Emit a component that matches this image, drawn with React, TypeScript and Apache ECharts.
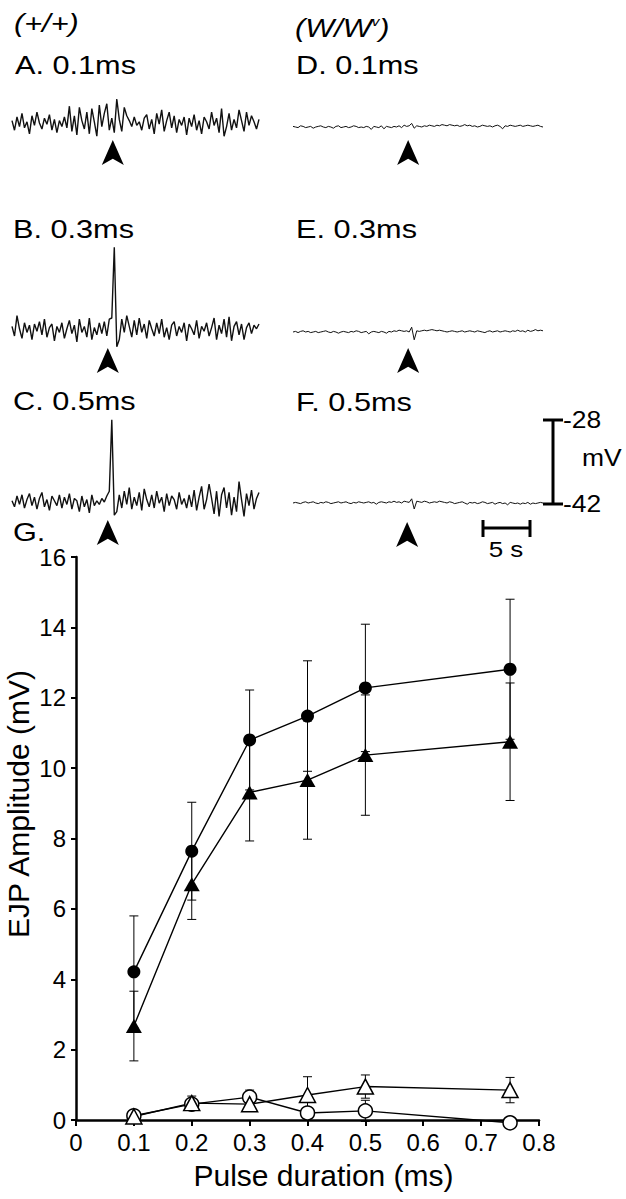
import React, { useEffect, useRef } from 'react';
import * as echarts from 'echarts';

const FONT = '"Liberation Sans", Arial, Helvetica, sans-serif';

// ---- Panel G data (EJP amplitude vs pulse duration) ----
const pulseDurations = [0.1, 0.2, 0.3, 0.4, 0.5, 0.75];
const filledCircle = [4.21, 7.64, 10.8, 11.48, 12.28, 12.81];
const filledCircleErr = [1.59, 1.39, 1.42, 1.57, 1.81, 1.99];
const filledTriangle = [2.67, 6.7, 9.31, 9.66, 10.37, 10.75];
const filledTriangleErr = [0.99, 1.0, 1.38, 1.68, 1.71, 1.67];
const openCircle = [0.12, 0.45, 0.65, 0.2, 0.26, -0.08];
const openCircleErr = [0.05, 0.15, 0.2, 0.1, 0.3, 0.05];
const openTriangle = [0.1, 0.48, 0.45, 0.71, 0.95, 0.85];
const openTriangleErr = [0.05, 0.2, 0.2, 0.52, 0.33, 0.36];

const xTicks = [0, 0.1, 0.2, 0.3, 0.4, 0.5, 0.6, 0.7, 0.8];
const yTicks = [0, 2, 4, 6, 8, 10, 12, 14, 16];
const xAxisTitle = 'Pulse duration (ms)';
const yAxisTitle = 'EJP Amplitude (mV)';

// ---- Panels A-F: membrane potential traces (mV relative to baseline), sampled every 0.25 s ----
const DT = 0.25;
const traceA = [
  0.4, -1.2, 1.0, -0.6, 1.6, -0.8, 0.2, -1.8, 1.2, -0.4,
  1.8, 0.0, -1.0, 0.8, -0.2, 1.4, -1.2, 0.6, -1.6, 0.4,
  -0.6, 1.0, -0.8, 2.8, -1.4, 1.2, -2.0, 2.6, 0.4, -1.0,
  1.8, -1.8, 2.4, 0.2, -2.2, 3.0, -0.6, 1.6, 3.2, -1.2,
  0.8, -1.6, 4.0, 0.6, -1.4, 2.6, 1.2, 0.4, -0.6, 1.0,
  -0.4, 0.2, -1.2, 0.8, 1.4, -1.0, 0.6, -1.8, 1.6, -0.2,
  2.2, -1.4, 0.4, 1.8, -0.8, 1.2, -1.6, 0.6, -0.4, 1.0,
  -2.0, 0.8, -0.6, 1.4, -1.2, 0.4, -1.8, 1.0, 0.2, -1.0,
  1.8, -0.4, 0.8, -1.6, 2.4, -2.2, -0.6, 1.6, -1.2, 0.6,
  -0.8, 2.2, 0.4, -1.4, 1.8, -0.4, 1.2, 0.2, -1.0, 0.6,
];
const traceB = [
  0.6, -1.0, 2.4, 0.2, -1.4, 1.2, -0.4, 0.8, -1.6, 1.0,
  -0.2, 1.4, -0.8, 1.8, -1.2, 0.4, 1.0, -1.8, 0.6, -0.4,
  1.2, -1.4, 0.2, 1.6, -0.6, 0.8, -2.0, 1.8, -0.4, 0.6,
  -1.2, 2.0, -1.6, 0.4, -0.8, 1.2, -0.6, 1.4, -1.0, 1.8,
  2.0, 13.8, -2.8, -1.6, 1.8, -0.4, 2.4, 0.6, -1.2, 1.6,
  -0.8, 2.0, -0.4, 1.0, -1.4, 1.6, 0.2, -1.0, 1.2, -0.6,
  1.8, -1.2, 0.4, -1.6, 0.8, 1.4, -1.0, 0.6, -0.4, 1.2,
  -1.8, 1.0, 0.2, -0.8, 1.6, -1.4, 0.6, -0.2, 1.2, -1.0,
  0.4, 2.0, -1.6, 0.8, -0.6, 1.8, -1.2, 2.2, -1.8, 0.6,
  1.4, -0.8, 1.0, -1.6, 0.4, 1.2, -0.6, 0.8, 0.2, 1.0,
];
const traceC = [
  0.2, -0.8, 1.0, -0.4, 1.2, -1.0, 0.4, 1.4, -0.6, 0.8,
  -1.2, 0.6, 1.6, -0.8, 0.4, -1.4, 1.0, 0.2, -0.6, 1.2,
  -1.0, 0.8, -0.4, 1.4, -1.2, 0.6, 0.2, -1.6, 1.0, -0.8,
  0.4, -1.8, 1.2, -0.6, 0.2, -0.4, 0.6, 0.0, 1.0, 1.8,
  13.7, -2.2, -1.6, 1.2, -1.0, 1.8, -0.4, 2.4, -1.2, 0.8,
  -0.6, 1.6, -1.4, 2.2, 0.4, -0.8, 1.2, -1.0, 1.8, -0.2,
  0.8, -1.6, 1.4, -0.6, 1.0, 0.4, -1.2, 1.6, -0.4, 0.6,
  -1.0, 1.2, -0.8, 2.0, -1.4, 0.8, 2.6, -1.2, 0.4, 3.0,
  0.6, -2.0, 1.8, -2.4, 1.2, 2.4, -1.0, 1.6, -2.2, 0.8,
  -1.6, 3.4, 0.4, -2.4, 1.4, -0.6, 2.0, -1.2, 0.6, 1.6,
];
const traceD = [
  0.1, 0.0, -0.1, 0.2, 0.1, -0.1, 0.0, 0.1, -0.2, 0.0,
  0.1, 0.2, 0.0, -0.1, 0.1, 0.0, -0.2, 0.1, 0.2, -0.1,
  0.0, 0.1, -0.1, 0.0, 0.2, 0.1, -0.1, 0.0, -0.1, 0.1,
  0.0, -0.4, 0.1, 0.0, -0.1, 0.2, -0.3, 0.1, 0.0, -0.1,
  0.1, 0.0, 0.2, -0.1, 0.3, 0.1, 0.2, 0.6, -0.2, 0.2,
  0.1, 0.0, 0.2, 0.1, 0.3, 0.2, 0.1, 0.3, 0.2, 0.4,
  0.3, 0.2, 0.4, 0.3, 0.2, 0.3, 0.1, 0.2, 0.4, 0.2,
  0.3, 0.1, 0.2, 0.0, 0.1, 0.3, 0.2, 0.1, 0.2, 0.0,
  0.2, 0.3, 0.1, -0.3, 0.2, 0.1, 0.3, 0.2, 0.1, 0.2,
  0.3, 0.1, 0.2, 0.3, 0.2, 0.1, 0.2, 0.3, 0.1, 0.0,
];
const traceE = [
  0.0, 0.1, -0.1, 0.1, 0.2, 0.0, 0.1, -0.1, 0.0, 0.1,
  -0.1, 0.0, 0.1, 0.2, 0.0, -0.1, 0.1, 0.0, -0.2, 0.0,
  0.1, 0.0, -0.1, 0.1, 0.0, 0.2, 0.1, -0.1, 0.0, 0.1,
  -0.3, 0.0, 0.1, 0.0, -0.1, 0.1, 0.0, -0.2, 0.1, 0.0,
  0.2, 0.1, 0.3, 0.2, 0.1, 0.2, 0.0, 0.8, -1.3, 0.2,
  0.1, 0.2, 0.3, 0.2, 0.3, 0.4, 0.3, 0.2, 0.3, 0.2,
  0.1, 0.0, 0.1, 0.2, 0.1, 0.0, 0.1, 0.2, 0.0, 0.1,
  0.2, 0.1, 0.0, 0.2, 0.1, 0.0, -0.1, 0.1, 0.2, 0.0,
  0.1, 0.2, 0.0, 0.1, 0.2, 0.1, 0.0, 0.2, 0.1, 0.3,
  0.1, 0.2, 0.0, 0.3, 0.1, 0.2, 0.4, 0.2, 0.3, 0.2,
];
const traceF = [
  0.0, 0.1, 0.0, -0.1, 0.1, 0.2, 0.0, 0.1, 0.2, 0.0,
  -0.1, 0.1, 0.0, 0.2, 0.1, -0.1, 0.0, 0.1, 0.2, 0.0,
  0.1, 0.2, 0.0, -0.1, 0.1, 0.0, 0.2, 0.1, 0.0, 0.1,
  0.2, 0.0, 0.1, -0.2, 0.1, 0.2, 0.1, 0.0, 0.2, 0.1,
  0.3, 0.1, 0.2, 0.0, 0.3, 0.2, 0.1, 0.7, -1.0, 0.3,
  0.2, 0.1, 0.3, 0.2, 0.0, 0.1, 0.2, 0.1, 0.3, 0.2,
  0.1, 0.0, 0.2, 0.1, -0.1, 0.0, 0.1, 0.2, 0.0, -0.2,
  0.1, 0.0, 0.1, -0.1, 0.0, 0.2, 0.1, -0.1, 0.0, 0.1,
  -0.2, 0.0, 0.1, -0.1, 0.0, -0.3, 0.1, 0.0, -0.1, 0.0,
  -0.2, 0.0, -0.1, 0.1, -0.2, 0.0, -0.1, 0.0, 0.1, 0.0,
];
const traces = [traceA, traceB, traceC, traceD, traceE, traceF];
const panelTitles = ['A. 0.1ms', 'B. 0.3ms', 'C. 0.5ms', 'D. 0.1ms', 'E. 0.3ms', 'F. 0.5ms'];
// stimulus arrow: time (s) and tip position (mV relative to baseline)
const stimTime = [10.1, 9.6, 9.6, 11.4, 11.4, 11.3];
const stimArrowTip = [-2.83, -3.0, -3.0, -2.17, -2.67, -3.17];

// layout of the six trace panels (px)
const traceLayout = [
  { left: 12, top: 39, width: 247, lw: 1.4 },
  { left: 12, top: 246, width: 247, lw: 1.4 },
  { left: 12, top: 418, width: 247, lw: 1.4 },
  { left: 293, top: 43, width: 250, lw: 1.0 },
  { left: 293, top: 248, width: 250, lw: 1.0 },
  { left: 293, top: 419, width: 250, lw: 1.0 },
];
const titlePos = [
  [15, 64.5], [13, 229], [13, 400.5], [296, 65], [296, 229], [296, 401.5],
];

function App() {
  const ref = useRef<HTMLDivElement>(null);
  useEffect(() => {
    if (!ref.current) return;
    const chart = echarts.init(ref.current, null, { renderer: 'svg' });

    const grids: any[] = [
      { left: 76, right: 87, top: 557, bottom: 79, containLabel: false, outerBoundsMode: 'none' },
    ];
    const xAxes: any[] = [
      {
        type: 'value', gridIndex: 0, min: 0, max: 0.8, interval: 0.1,
        name: xAxisTitle, nameLocation: 'middle', nameGap: 40,
        nameTextStyle: { fontSize: 30, fontFamily: FONT, color: '#000', padding: [0, 0, 0, 32] },
        axisLine: { show: true, lineStyle: { color: '#000', width: 2.5 } },
        axisTick: { show: true, length: 6, lineStyle: { color: '#000', width: 2 } },
        axisLabel: {
          fontSize: 24, fontFamily: FONT, color: '#000', margin: 10,
          formatter: (v: number) => (v === 0 ? '0' : String(Math.round(v * 10) / 10)),
        },
        splitLine: { show: false },
      },
    ];
    const yAxes: any[] = [
      {
        type: 'value', gridIndex: 0, min: 0, max: 16, interval: 2,
        axisLine: { show: true, lineStyle: { color: '#000', width: 2.5 } },
        axisTick: { show: true, length: 5, lineStyle: { color: '#000', width: 2 } },
        axisLabel: { fontSize: 24, fontFamily: FONT, color: '#000', margin: 10 },
        splitLine: { show: false },
      },
    ];
    const series: any[] = [];

    traces.forEach((tr, i) => {
      const L = traceLayout[i];
      grids.push({ left: L.left, top: L.top, width: L.width, height: 120, outerBoundsMode: 'none' });
      xAxes.push({ type: 'value', gridIndex: i + 1, min: 0, max: (tr.length - 1) * DT, show: false });
      yAxes.push({ type: 'value', gridIndex: i + 1, min: -6, max: 14, show: false });
      series.push({
        type: 'line', name: panelTitles[i], xAxisIndex: i + 1, yAxisIndex: i + 1,
        data: tr.map((v, k) => [k * DT, v]), symbol: 'none', clip: false, silent: true,
        lineStyle: { color: '#111', width: L.lw },
      });
      // ECharts' "arrow" symbol has its tip at the data point and points up
      series.push({
        type: 'scatter', name: panelTitles[i] + ' stimulus', xAxisIndex: i + 1, yAxisIndex: i + 1,
        data: [[stimTime[i], stimArrowTip[i]]], symbol: 'arrow', symbolSize: [16.5, 25],
        itemStyle: { color: '#000', opacity: 1 }, clip: false, silent: true,
      });
    });

    const errSeries = (vals: number[], errs: number[], name: string) => ({
      type: 'custom', name, xAxisIndex: 0, yAxisIndex: 0, z: 1, silent: true, clip: false,
      data: pulseDurations.map((x, i) => [x, vals[i], errs[i]]),
      encode: { x: 0, y: 1 },
      renderItem: (params: any, api: any) => {
        const x = api.value(0), y = api.value(1), e = api.value(2);
        const t = api.coord([x, y + e]);
        const b = api.coord([x, y - e]);
        const cw = 4.5;
        const st = { stroke: '#000', lineWidth: 1 };
        return {
          type: 'group',
          children: [
            { type: 'line', shape: { x1: t[0], y1: t[1], x2: b[0], y2: b[1] }, style: st },
            { type: 'line', shape: { x1: t[0] - cw, y1: t[1], x2: t[0] + cw, y2: t[1] }, style: st },
            { type: 'line', shape: { x1: b[0] - cw, y1: b[1], x2: b[0] + cw, y2: b[1] }, style: st },
          ],
        };
      },
    });

    series.push(errSeries(filledCircle, filledCircleErr, 'err1'));
    series.push(errSeries(filledTriangle, filledTriangleErr, 'err2'));
    series.push(errSeries(openCircle, openCircleErr, 'err3'));
    series.push(errSeries(openTriangle, openTriangleErr, 'err4'));

    const lineSeries = (vals: number[], name: string, symbol: string, size: any, open: boolean) => ({
      type: 'line', name, xAxisIndex: 0, yAxisIndex: 0, z: 3, clip: false,
      data: pulseDurations.map((x, i) => [x, vals[i]]),
      symbol, symbolSize: size, showSymbol: true,
      lineStyle: { color: '#000', width: 1.4 },
      itemStyle: open
        ? { color: '#fff', borderColor: '#000', borderWidth: 1.5 }
        : { color: '#000', borderColor: '#000', borderWidth: 0 },
    });
    series.push(lineSeries(filledCircle, 'Filled circle', 'circle', 13, false));
    series.push(lineSeries(filledTriangle, 'Filled triangle', 'triangle', [16, 14], false));
    series.push(lineSeries(openCircle, 'Open circle', 'circle', 14, true));
    series.push(lineSeries(openTriangle, 'Open triangle', 'triangle', [16, 15], true));

    const txt = (text: string, x: number, y: number, size: number, extra: any = {}, sx = 1.18) => ({
      type: 'text', x, y, scaleX: sx, silent: true,
      style: {
        text, fontSize: size, fontFamily: FONT, fill: '#000',
        align: 'left', verticalAlign: 'middle', ...extra,
      },
    });

    const graphic: any[] = [
      txt('(+/+)', 14, 23, 26, { fontStyle: 'italic' }),
      {
        type: 'text', x: 295, y: 28, scaleX: 1.18, silent: true,
        style: {
          text: '{a|(W/W}{b|v}{a|)}', fontFamily: FONT, fill: '#000', align: 'left', verticalAlign: 'middle',
          rich: {
            a: { fontSize: 26, fontStyle: 'italic', fontFamily: FONT, fill: '#000' },
            b: { fontSize: 13, fontStyle: 'italic', fontFamily: FONT, fill: '#000', verticalAlign: 'top', padding: [0, 0, 12, 0] },
          },
        },
      },
      ...panelTitles.map((t, i) => txt(t, titlePos[i][0], titlePos[i][1], 26)),
      txt('G.', 13, 532, 26),
      // y-axis title of panel G
      {
        type: 'text', x: 18, y: 804, rotation: Math.PI / 2, silent: true,
        style: { text: yAxisTitle, fontSize: 30, fontFamily: FONT, fill: '#000', align: 'center', verticalAlign: 'middle' },
      },
      // voltage scale bar
      { type: 'line', silent: true, shape: { x1: 553, y1: 420, x2: 553, y2: 504 }, style: { stroke: '#000', lineWidth: 3 } },
      { type: 'line', silent: true, shape: { x1: 543, y1: 420, x2: 563, y2: 420 }, style: { stroke: '#000', lineWidth: 3 } },
      { type: 'line', silent: true, shape: { x1: 543, y1: 504, x2: 563, y2: 504 }, style: { stroke: '#000', lineWidth: 3 } },
      txt('-28', 563, 420, 23, {}, 1.15),
      txt('mV', 582, 458, 23, {}, 1.15),
      txt('-42', 563, 504, 23, {}, 1.15),
      // time scale bar
      { type: 'line', silent: true, shape: { x1: 483, y1: 528, x2: 530, y2: 528 }, style: { stroke: '#000', lineWidth: 3 } },
      { type: 'line', silent: true, shape: { x1: 483, y1: 520, x2: 483, y2: 537 }, style: { stroke: '#000', lineWidth: 3 } },
      { type: 'line', silent: true, shape: { x1: 530, y1: 520, x2: 530, y2: 537 }, style: { stroke: '#000', lineWidth: 3 } },
      txt('5 s', 506, 549, 22, { align: 'center' }, 1.18),
    ];

    chart.setOption({
      animation: false,
      backgroundColor: '#fff',
      grid: grids,
      xAxis: xAxes,
      yAxis: yAxes,
      series,
      graphic,
    });
    return () => chart.dispose();
  }, []);
  return (
    <div
      ref={ref}
      style={{ position: 'absolute', left: 0, top: 0, width: 626, height: 1199, background: '#fff' }}
    />
  );
}

export default App;
